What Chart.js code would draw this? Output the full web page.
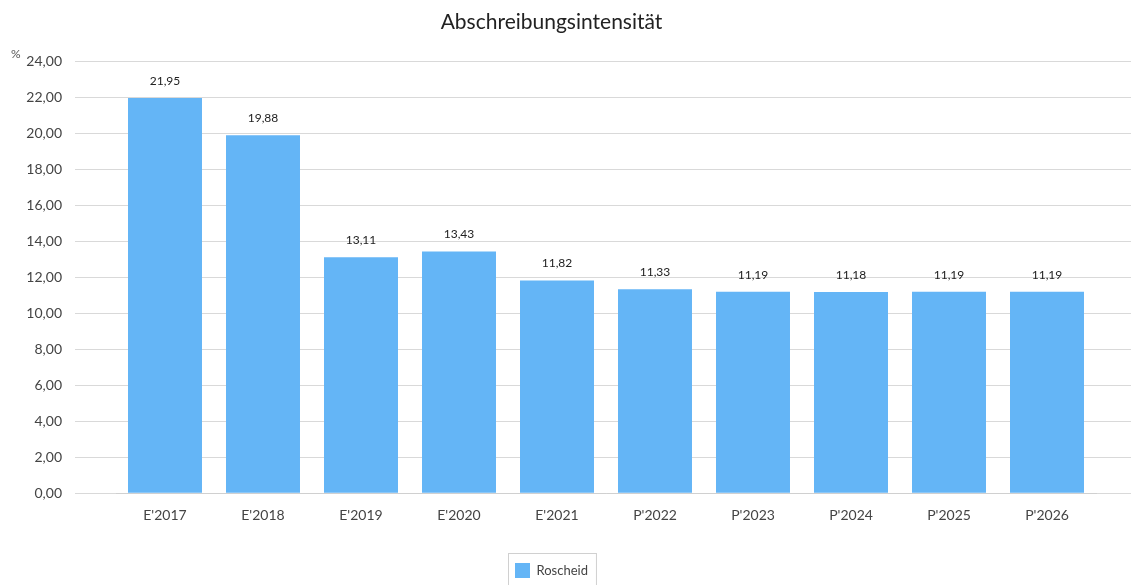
<!DOCTYPE html>
<html>
<head>
<meta charset="utf-8">
<script src="https://cdn.jsdelivr.net/npm/chart.js@4.4.0/dist/chart.umd.min.js"></script>
<style>
  html, body { margin: 0; padding: 0; background: #fff; }
  #wrap { width: 1131px; height: 585px; }
</style>
</head>
<body>
<div id="wrap"><canvas id="chart"></canvas></div>
<script>
const categories = ["E'2017", "E'2018", "E'2019", "E'2020", "E'2021", "P'2022", "P'2023", "P'2024", "P'2025", "P'2026"];
const roscheid = [21.95, 19.88, 13.11, 13.43, 11.82, 11.33, 11.19, 11.18, 11.19, 11.19];
const yMin = 0;
const yMax = 24;
const yStep = 2;

const fontFamily = "Lato, 'Noto Sans', sans-serif";
const gridColor = '#d9d9d9';

const fmt = v => v.toFixed(2).replace('.', ',');

// value labels above the bars
const valueLabels = {
    id: 'valueLabels',
    afterDatasetsDraw(chart) {
        const ctx = chart.ctx;
        const meta = chart.getDatasetMeta(0);
        ctx.save();
        ctx.font = '12px ' + fontFamily;
        ctx.fillStyle = '#222';
        ctx.textAlign = 'center';
        ctx.textBaseline = 'middle';
        meta.data.forEach((bar, i) => {
            ctx.fillText(fmt(roscheid[i]), bar.x, bar.y - 17);
        });
        ctx.restore();
    }
};

// title and legend sit a bit left of the canvas centre in the original
const shiftBlocks = {
    id: 'shiftBlocks',
    afterLayout(chart) {
        [chart.titleBlock, chart.legend].forEach(b => {
            if (b) { b.left -= 14; b.right -= 14; }
        });
        chart.legend.top += 3;
        chart.legend.bottom += 3;
    }
};

// "%" unit next to the top tick, and frame around the legend
const extras = {
    id: 'extras',
    afterDraw(chart) {
        const ctx = chart.ctx;
        const y = chart.scales.y;
        ctx.save();
        ctx.font = '12px ' + fontFamily;
        ctx.fillStyle = '#555';
        ctx.textAlign = 'left';
        ctx.textBaseline = 'middle';
        ctx.fillText('%', 11, y.getPixelForValue(yMax) - 7);

        const box = chart.legend.legendHitBoxes[0];
        if (box) {
            ctx.strokeStyle = '#d0d0d0';
            ctx.lineWidth = 1;
            ctx.strokeRect(Math.round(box.left - 7) + 0.5, Math.round(box.top - 10) + 0.5, box.width + 15, box.height + 30);
        }
        ctx.restore();
    }
};

new Chart(document.getElementById('chart').getContext('2d'), {
    type: 'bar',
    data: {
        labels: categories,
        datasets: [{
            label: 'Roscheid',
            data: roscheid,
            backgroundColor: '#64b5f6',
            borderWidth: 0,
            categoryPercentage: 1,
            barPercentage: 0.755
        }]
    },
    options: {
        responsive: true,
        maintainAspectRatio: false,
        animation: false,
        layout: { padding: { left: 0, right: 0, top: 0, bottom: 0 } },
        plugins: {
            title: {
                display: true,
                text: 'Abschreibungsintensität',
                color: '#222',
                font: { family: fontFamily, size: 21, weight: 'normal' },
                padding: { top: 10, bottom: 26 }
            },
            legend: {
                position: 'bottom',
                labels: {
                    color: '#444',
                    font: { family: fontFamily, size: 13 },
                    boxWidth: 15,
                    boxHeight: 15,
                    padding: 6
                }
            },
            tooltip: { enabled: false }
        },
        scales: {
            x: {
                grid: { display: false, drawTicks: false },
                border: { display: true, color: '#d0d0d0' },
                ticks: {
                    color: '#444',
                    font: { family: fontFamily, size: 14 },
                    padding: 14
                },
                afterFit(scale) { scale.height += 16; }
            },
            y: {
                position: 'left',
                min: yMin,
                max: yMax,
                grid: { color: gridColor, tickLength: 41, tickColor: gridColor },
                border: { display: false },
                ticks: {
                    stepSize: yStep,
                    color: '#444',
                    padding: 13,
                    font: { family: fontFamily, size: 14 },
                    callback: v => fmt(v)
                },
                afterFit(scale) { scale.width = 116; }
            },
            y2: {
                position: 'right',
                min: yMin,
                max: yMax,
                grid: { drawOnChartArea: false, tickLength: 35, tickColor: gridColor },
                border: { display: false },
                ticks: { stepSize: yStep, display: false },
                afterFit(scale) { scale.width = 35; }
            }
        }
    },
    plugins: [shiftBlocks, valueLabels, extras]
});
</script>
</body>
</html>
